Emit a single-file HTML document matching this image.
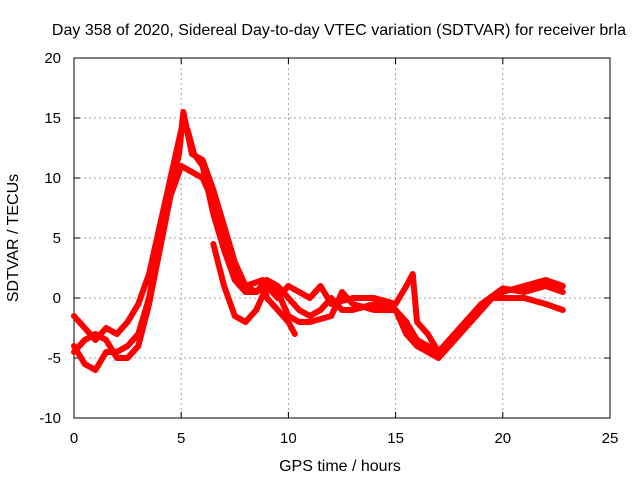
<!DOCTYPE html>
<html><head><meta charset="utf-8"><style>
body{margin:0;background:#fff;}
svg text{font-family:"Liberation Sans",sans-serif;font-size:15px;fill:#000;}
svg text.big{font-size:16px;}
</style></head><body>
<svg id="chart" width="640" height="480">
<rect width="640" height="480" fill="#fff"/>
<g id="grid"></g><g id="axes"></g><g id="series"></g>
<text class="big" x="339" y="35" text-anchor="middle">Day 358 of 2020, Sidereal Day-to-day VTEC variation (SDTVAR) for receiver brla</text>
<text class="big" x="340" y="471" text-anchor="middle">GPS time / hours</text>
<text class="big" transform="translate(18,238) rotate(-90)" text-anchor="middle">SDTVAR / TECUs</text>
</svg>
<script>
const xTicks=[0,5,10,15,20,25];
const yTicks=[-10,-5,0,5,10,15,20];
const trackAx=[0,0.5,1,1.5,2,2.5,3,3.5,4,4.5,5,5.3,5.6,6,6.5,7,7.5,8,8.5,9,9.5,10,10.5,11,11.5,12,12.5,13,14,15,15.5,16,16.5,17,17.5,18,18.5,19,19.5,20,21,22,22.8];
const trackAy=[-1.5,-2.5,-3.5,-2.5,-3,-2,-0.5,2,6,10,14,14,12,11,7,4,1.5,0.5,0.5,1.5,1,0,-1,-1.5,-1,0,-1,-1,-0.5,-1,-2,-3.5,-4,-4.5,-3.5,-2.5,-1.5,-0.5,0,0,0,-0.5,-1];
const trackBx=[0,0.5,1,1.5,2,2.5,3,3.5,4,4.5,4.9,5.1,5.5,6,6.5,7,7.5,8,8.5,9,9.5,10,10.5,11,12,12.5,13,14,15,15.5,16,16.5,17,17.5,18,19,19.5,20,21,22,22.8];
const trackBy=[-4,-5.5,-6,-4.5,-4.5,-4,-3,0,5,9,12,15.5,12,11.5,9,6,3,1,0.5,1,0.5,-1.5,-2,-2,-1.5,0.5,-0.5,-1,-1,-3,-4,-4.5,-5,-4,-3,-1,0,0.5,1,1.5,1];
const trackCx=[0,0.5,1,1.5,2,2.5,3,3.5,4,4.5,5,5.5,6,6.5,7,7.5,8,8.8,9,9.5,10,10.3];
const trackCy=[-4.5,-3.5,-3,-3.5,-5,-5,-4,-0.5,4,8.5,11,10.5,10,8,5,2,1,1.5,0,-1,-2,-3];
const trackDx=[6.5,7,7.5,8,8.5,9,9.5,10,10.5,11,11.5,12,13,14,15,15.5,15.8,16,16.5,17,18,19,20,21,22,22.8];
const trackDy=[4.5,1,-1.5,-2,-1,1,0,1,0.5,0,1,-0.5,0,0,-0.5,1,2,-2,-3,-4.5,-2.5,-0.5,0.8,0.5,1,0.5];
const L=74,R=610,T=58,B=418;
const xs=v=>L+(v-0)/25*(R-L);
const ys=v=>B-(v+10)/30*(B-T);
const NS="http://www.w3.org/2000/svg";
function mk(tag,attrs,parent){const e=document.createElementNS(NS,tag);for(const k in attrs)e.setAttribute(k,attrs[k]);parent.appendChild(e);return e;}
const grid=document.getElementById('grid'),axes=document.getElementById('axes'),ser=document.getElementById('series');
xTicks.forEach(t=>{
 if(t>0&&t<25){const g=mk('line',{x1:xs(t),x2:xs(t),y1:T,y2:B,stroke:'#a0a0a0','stroke-dasharray':'2,3'},grid);
 
 }
 mk('line',{x1:xs(t),x2:xs(t),y1:B,y2:B-6,stroke:'#000'},axes);
 mk('line',{x1:xs(t),x2:xs(t),y1:T,y2:T+6,stroke:'#000'},axes);
 const tx=mk('text',{x:xs(t),y:B+25,'text-anchor':'middle'},axes);tx.textContent=t;
 
 
});
yTicks.forEach(t=>{
 if(t>-10&&t<20){const g=mk('line',{x1:L,x2:R,y1:ys(t),y2:ys(t),stroke:'#a0a0a0','stroke-dasharray':'2,3'},grid);
 
 }
 mk('line',{x1:L,x2:L+6,y1:ys(t),y2:ys(t),stroke:'#000'},axes);
 mk('line',{x1:R,x2:R-6,y1:ys(t),y2:ys(t),stroke:'#000'},axes);
 const tx=mk('text',{x:L-13,y:ys(t)+5,'text-anchor':'end'},axes);tx.textContent=t;
 
 
});
const frame=mk('rect',{x:L,y:T,width:R-L,height:B-T,fill:'none',stroke:'#000'},axes);


[[trackAx,trackAy],[trackBx,trackBy],[trackCx,trackCy],[trackDx,trackDy]].forEach(([X,Y])=>{
 const p=mk('polyline',{points:X.map((x,i)=>xs(x)+','+ys(Y[i])).join(' '),fill:'none',stroke:'#ff0000','stroke-width':6,'stroke-linejoin':'round','stroke-linecap':'round'},ser);
 
 
});
</script>
</body></html>
